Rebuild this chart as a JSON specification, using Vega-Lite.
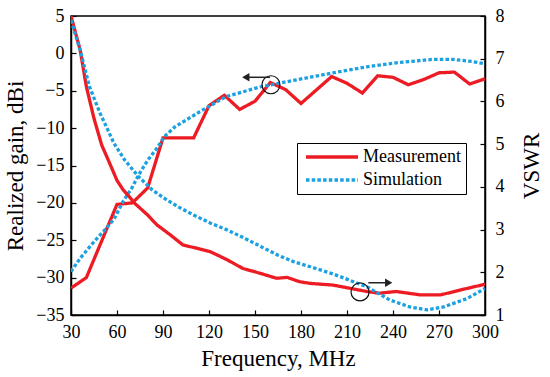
{
  "$schema": "https://vega.github.io/schema/vega-lite/v6.json",
  "width": 414,
  "height": 299,
  "autosize": "none",
  "padding": {"left": 71, "top": 16, "right": 65, "bottom": 62},
  "background": "white",
  "config": {
    "font": "Liberation Serif",
    "view": {"stroke": "black", "strokeWidth": 1.5},
    "axis": {
      "labelFont": "Liberation Serif",
      "titleFont": "Liberation Serif",
      "labelFontSize": 18,
      "titleFontSize": 23,
      "titleFontWeight": "normal",
      "labelColor": "black",
      "titleColor": "black",
      "domainColor": "black",
      "domainWidth": 1.5,
      "tickColor": "black",
      "tickWidth": 1.2,
      "tickSize": -5,
      "grid": false,
      "labelOverlap": false,
      "labelFlush": false
    },
    "legend": {
      "orient": "none",
      "legendX": 226,
      "legendY": 127,
      "strokeColor": "black",
      "fillColor": "white",
      "padding": 5,
      "symbolType": "M-5.2,0H5.2",
      "symbolSize": 100,
      "symbolOffset": 21,
      "symbolStrokeWidth": 3.3,
      "labelFont": "Liberation Serif",
      "labelFontSize": 18,
      "labelColor": "black",
      "labelOffset": 22,
      "rowPadding": 5
    }
  },
  "datasets": {
    "gain": [
      {"f": 30, "v": -31.4, "s": "Measurement"},
      {"f": 40, "v": -30.0, "s": "Measurement"},
      {"f": 60, "v": -20.2, "s": "Measurement"},
      {"f": 70, "v": -20.0, "s": "Measurement"},
      {"f": 80, "v": -18.0, "s": "Measurement"},
      {"f": 90, "v": -11.3, "s": "Measurement"},
      {"f": 110, "v": -11.3, "s": "Measurement"},
      {"f": 120, "v": -7.0, "s": "Measurement"},
      {"f": 130, "v": -5.6, "s": "Measurement"},
      {"f": 140, "v": -7.5, "s": "Measurement"},
      {"f": 150, "v": -6.4, "s": "Measurement"},
      {"f": 160, "v": -3.9, "s": "Measurement"},
      {"f": 170, "v": -4.85, "s": "Measurement"},
      {"f": 180, "v": -6.7, "s": "Measurement"},
      {"f": 200, "v": -3.1, "s": "Measurement"},
      {"f": 210, "v": -4.0, "s": "Measurement"},
      {"f": 220, "v": -5.3, "s": "Measurement"},
      {"f": 230, "v": -3.0, "s": "Measurement"},
      {"f": 240, "v": -3.2, "s": "Measurement"},
      {"f": 250, "v": -4.2, "s": "Measurement"},
      {"f": 260, "v": -3.5, "s": "Measurement"},
      {"f": 270, "v": -2.6, "s": "Measurement"},
      {"f": 280, "v": -2.5, "s": "Measurement"},
      {"f": 290, "v": -4.1, "s": "Measurement"},
      {"f": 300, "v": -3.4, "s": "Measurement"},
      {"f": 30, "v": -29.2, "s": "Simulation"},
      {"f": 36, "v": -27.4, "s": "Simulation"},
      {"f": 45, "v": -25.2, "s": "Simulation"},
      {"f": 53, "v": -23.4, "s": "Simulation"},
      {"f": 58, "v": -22.2, "s": "Simulation"},
      {"f": 64, "v": -19.8, "s": "Simulation"},
      {"f": 70, "v": -17.9, "s": "Simulation"},
      {"f": 74, "v": -16.3, "s": "Simulation"},
      {"f": 80, "v": -14.3, "s": "Simulation"},
      {"f": 86, "v": -12.7, "s": "Simulation"},
      {"f": 91, "v": -11.1, "s": "Simulation"},
      {"f": 98, "v": -9.8, "s": "Simulation"},
      {"f": 114, "v": -7.8, "s": "Simulation"},
      {"f": 131, "v": -5.8, "s": "Simulation"},
      {"f": 153, "v": -4.5, "s": "Simulation"},
      {"f": 173, "v": -3.7, "s": "Simulation"},
      {"f": 201, "v": -2.6, "s": "Simulation"},
      {"f": 223, "v": -1.8, "s": "Simulation"},
      {"f": 245, "v": -1.2, "s": "Simulation"},
      {"f": 266, "v": -0.8, "s": "Simulation"},
      {"f": 279, "v": -0.8, "s": "Simulation"},
      {"f": 292, "v": -1.1, "s": "Simulation"},
      {"f": 300, "v": -1.4, "s": "Simulation"}
    ],
    "vswr": [
      {"f": 30, "v": 8.0, "s": "Measurement"},
      {"f": 36, "v": 7.2, "s": "Measurement"},
      {"f": 40, "v": 6.35, "s": "Measurement"},
      {"f": 45, "v": 5.6, "s": "Measurement"},
      {"f": 50, "v": 4.98, "s": "Measurement"},
      {"f": 55, "v": 4.57, "s": "Measurement"},
      {"f": 60, "v": 4.15, "s": "Measurement"},
      {"f": 64, "v": 3.93, "s": "Measurement"},
      {"f": 67, "v": 3.81, "s": "Measurement"},
      {"f": 72, "v": 3.6, "s": "Measurement"},
      {"f": 80, "v": 3.34, "s": "Measurement"},
      {"f": 86, "v": 3.11, "s": "Measurement"},
      {"f": 95, "v": 2.87, "s": "Measurement"},
      {"f": 103, "v": 2.64, "s": "Measurement"},
      {"f": 110, "v": 2.58, "s": "Measurement"},
      {"f": 121, "v": 2.48, "s": "Measurement"},
      {"f": 132, "v": 2.29, "s": "Measurement"},
      {"f": 142, "v": 2.09, "s": "Measurement"},
      {"f": 153, "v": 1.98, "s": "Measurement"},
      {"f": 164, "v": 1.86, "s": "Measurement"},
      {"f": 171, "v": 1.88, "s": "Measurement"},
      {"f": 179, "v": 1.78, "s": "Measurement"},
      {"f": 186, "v": 1.74, "s": "Measurement"},
      {"f": 201, "v": 1.7, "s": "Measurement"},
      {"f": 223, "v": 1.55, "s": "Measurement"},
      {"f": 231, "v": 1.51, "s": "Measurement"},
      {"f": 242, "v": 1.55, "s": "Measurement"},
      {"f": 258, "v": 1.47, "s": "Measurement"},
      {"f": 271, "v": 1.47, "s": "Measurement"},
      {"f": 288, "v": 1.62, "s": "Measurement"},
      {"f": 300, "v": 1.72, "s": "Measurement"},
      {"f": 30, "v": 7.9, "s": "Simulation"},
      {"f": 36, "v": 7.2, "s": "Simulation"},
      {"f": 42, "v": 6.35, "s": "Simulation"},
      {"f": 49, "v": 5.72, "s": "Simulation"},
      {"f": 52, "v": 5.49, "s": "Simulation"},
      {"f": 58, "v": 5.02, "s": "Simulation"},
      {"f": 65, "v": 4.63, "s": "Simulation"},
      {"f": 74, "v": 4.24, "s": "Simulation"},
      {"f": 83, "v": 3.93, "s": "Simulation"},
      {"f": 91, "v": 3.73, "s": "Simulation"},
      {"f": 100, "v": 3.53, "s": "Simulation"},
      {"f": 110, "v": 3.34, "s": "Simulation"},
      {"f": 121, "v": 3.15, "s": "Simulation"},
      {"f": 132, "v": 2.99, "s": "Simulation"},
      {"f": 143, "v": 2.8, "s": "Simulation"},
      {"f": 154, "v": 2.6, "s": "Simulation"},
      {"f": 165, "v": 2.4, "s": "Simulation"},
      {"f": 175, "v": 2.25, "s": "Simulation"},
      {"f": 186, "v": 2.13, "s": "Simulation"},
      {"f": 201, "v": 1.96, "s": "Simulation"},
      {"f": 223, "v": 1.66, "s": "Simulation"},
      {"f": 238, "v": 1.35, "s": "Simulation"},
      {"f": 251, "v": 1.19, "s": "Simulation"},
      {"f": 262, "v": 1.12, "s": "Simulation"},
      {"f": 273, "v": 1.19, "s": "Simulation"},
      {"f": 288, "v": 1.38, "s": "Simulation"},
      {"f": 300, "v": 1.62, "s": "Simulation"}
    ],
    "circleGain": [{"f": 160.4, "v": -4.2}],
    "arrowGain": [{"f1": 144, "f2": 159.8, "v": -3.2}],
    "circleVswr": [{"f": 218.5, "v": 1.54}],
    "arrowVswr": [{"f1": 223.9, "f2": 237.2, "v": 1.755}]
  },
  "layer": [
    {
      "layer": [
        {
          "data": {"name": "gain"},
          "mark": {"type": "line", "strokeWidth": 3.3, "strokeCap": "butt", "clip": true},
          "encoding": {
            "x": {"field": "f", "type": "quantitative", "scale": {"domain": [30, 300], "nice": false},
              "axis": {"values": [30, 60, 90, 120, 150, 180, 210, 240, 270, 300], "tickCount": 12, "format": "d", "title": "Frequency, MHz", "labelPadding": 13, "titlePadding": 6}},
            "y": {"field": "v", "type": "quantitative", "scale": {"domain": [-35, 5], "nice": false},
              "axis": {"values": [-35, -30, -25, -20, -15, -10, -5, 0, 5], "tickCount": 10, "format": "d", "title": "Realized gain, dBi", "labelPadding": 12, "titlePadding": 8}},
            "color": {"field": "s", "type": "nominal", "scale": {"domain": ["Measurement", "Simulation"], "range": ["#ed1c24", "#1ba1e2"]}, "legend": {"title": null}},
            "strokeDash": {"field": "s", "type": "nominal", "scale": {"domain": ["Measurement", "Simulation"], "range": [[1, 0], [3.5, 2.2]]}, "legend": {"title": null}}
          }
        },
        {
          "data": {"name": "circleGain"},
          "mark": {"type": "point", "shape": "circle", "size": 324, "stroke": "#111111", "strokeWidth": 1.2, "filled": false, "opacity": 1},
          "encoding": {"x": {"field": "f", "type": "quantitative"}, "y": {"field": "v", "type": "quantitative"}}
        },
        {
          "data": {"name": "arrowGain"},
          "mark": {"type": "rule", "color": "#222222", "strokeWidth": 1.5},
          "encoding": {"x": {"field": "f1", "type": "quantitative"}, "x2": {"field": "f2"}, "y": {"field": "v", "type": "quantitative"}}
        },
        {
          "data": {"name": "arrowGain"},
          "mark": {"type": "point", "shape": "triangle-left", "size": 70, "filled": true, "color": "#222222", "opacity": 1},
          "encoding": {"x": {"field": "f1", "type": "quantitative"}, "y": {"field": "v", "type": "quantitative"}}
        }
      ]
    },
    {
      "layer": [
        {
          "data": {"name": "vswr"},
          "mark": {"type": "line", "strokeWidth": 3.3, "strokeCap": "butt", "clip": true},
          "encoding": {
            "x": {"field": "f", "type": "quantitative"},
            "y": {"field": "v", "type": "quantitative", "scale": {"domain": [1, 8], "nice": false},
              "axis": {"orient": "right", "values": [1, 2, 3, 4, 5, 6, 7, 8], "tickCount": 10, "format": "d", "title": "VSWR", "labelPadding": 15, "titlePadding": 16, "titleAngle": 270, "titleBaseline": "top"}},
            "color": {"field": "s", "type": "nominal"},
            "strokeDash": {"field": "s", "type": "nominal"}
          }
        },
        {
          "data": {"name": "circleVswr"},
          "mark": {"type": "point", "shape": "circle", "size": 324, "stroke": "#111111", "strokeWidth": 1.2, "filled": false, "opacity": 1},
          "encoding": {"x": {"field": "f", "type": "quantitative"}, "y": {"field": "v", "type": "quantitative"}}
        },
        {
          "data": {"name": "arrowVswr"},
          "mark": {"type": "rule", "color": "#222222", "strokeWidth": 1.5},
          "encoding": {"x": {"field": "f1", "type": "quantitative"}, "x2": {"field": "f2"}, "y": {"field": "v", "type": "quantitative"}}
        },
        {
          "data": {"name": "arrowVswr"},
          "mark": {"type": "point", "shape": "triangle-right", "size": 70, "filled": true, "color": "#222222", "opacity": 1},
          "encoding": {"x": {"field": "f2", "type": "quantitative"}, "y": {"field": "v", "type": "quantitative"}}
        }
      ]
    }
  ],
  "resolve": {"scale": {"y": "independent"}}
}
